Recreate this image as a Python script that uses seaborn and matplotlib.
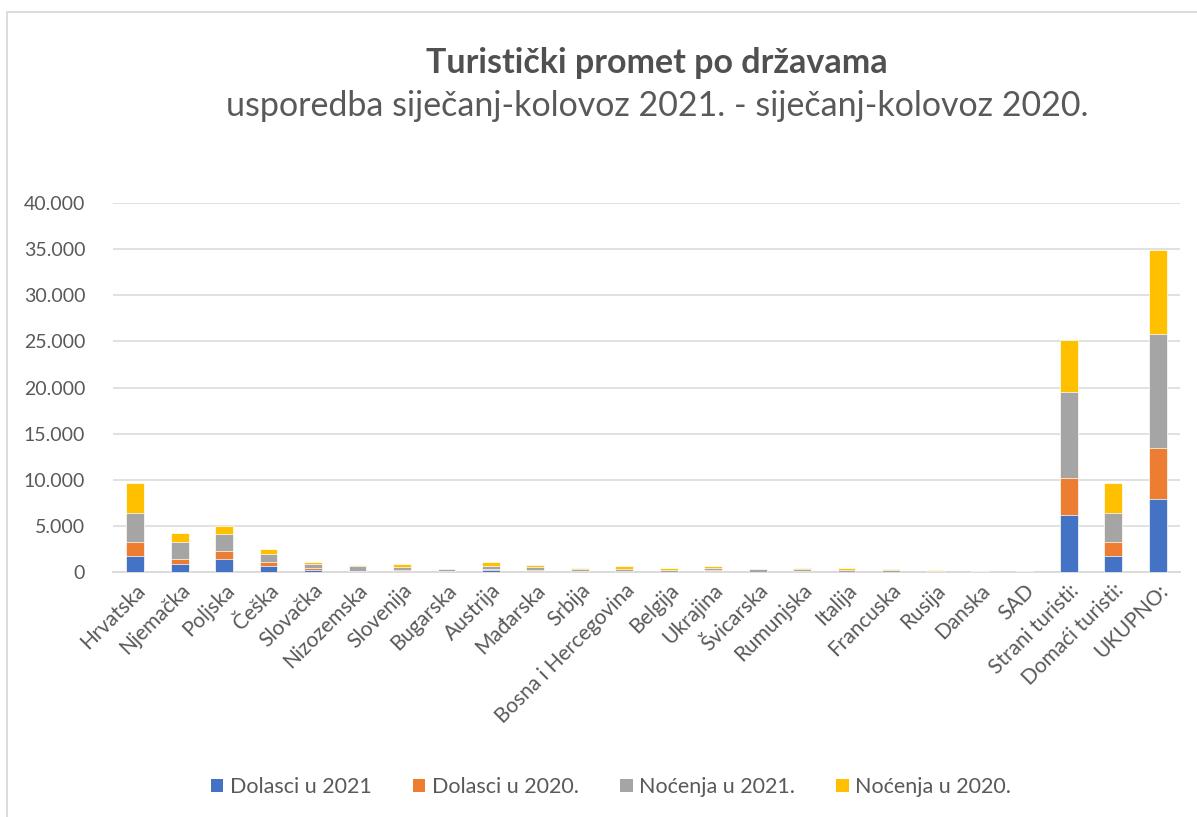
import matplotlib
matplotlib.use("Agg")
import matplotlib.pyplot as plt
import seaborn as sns
import pandas as pd
from matplotlib.patches import Patch, Rectangle
from matplotlib.ticker import FuncFormatter

drzave = ['Hrvatska', 'Njemačka', 'Poljska', 'Češka', 'Slovačka', 'Nizozemska',
          'Slovenija', 'Bugarska', 'Austrija', 'Mađarska', 'Srbija',
          'Bosna i Hercegovina', 'Belgija', 'Ukrajina', 'Švicarska', 'Rumunjska',
          'Italija', 'Francuska', 'Rusija', 'Danska', 'SAD',
          'Strani turisti:', 'Domaći turisti:', 'UKUPNO:']

dolasci_2021 = [1700, 900, 1410, 690, 250, 80, 60, 40, 180, 110, 20, 20, 20, 110,
                20, 30, 10, 10, 10, 5, 5, 6200, 1700, 7900]
dolasci_2020 = [1500, 480, 830, 430, 150, 60, 150, 30, 140, 110, 50, 60, 30, 140,
                30, 60, 10, 10, 10, 5, 5, 4000, 1500, 5500]
nocenja_2021 = [3150, 1840, 1850, 830, 500, 520, 370, 250, 360, 360, 290, 250, 220, 220,
                230, 230, 200, 170, 130, 70, 50, 9300, 3150, 12450]
nocenja_2020 = [3350, 1040, 930, 510, 220, 80, 290, 40, 370, 180, 110, 320, 130, 220,
                80, 80, 210, 100, 70, 30, 40, 5700, 3350, 9050]

serije = ['Dolasci u 2021', 'Dolasci u 2020.', 'Noćenja u 2021.', 'Noćenja u 2020.']
boje = ['#4472C4', '#ED7D31', '#A5A5A5', '#FFC000']

df = pd.DataFrame({'drzava': drzave,
                   serije[0]: dolasci_2021,
                   serije[1]: dolasci_2020,
                   serije[2]: nocenja_2021,
                   serije[3]: nocenja_2020})
# kumulativne vrijednosti za slaganje stupaca
kum = df[serije].cumsum(axis=1)
kum['drzava'] = df['drzava']

sns.set_theme(style='white')
plt.rcParams['font.family'] = ['Lato', 'DejaVu Sans']

fig = plt.figure(figsize=(11.97, 8.17), dpi=100)
ax = fig.add_axes([113 / 1197, 1 - 572 / 817, (1180 - 113) / 1197, (572 - 203) / 817])

for s, c in reversed(list(zip(serije, boje))):
    sns.barplot(data=kum, x='drzava', y=s, color=c, width=0.4, ax=ax,
                edgecolor='white', linewidth=0.5, saturation=1, zorder=3)

ax.set_ylim(0, 40000)
ax.set_yticks(range(0, 40001, 5000))
ax.yaxis.set_major_formatter(FuncFormatter(lambda v, p: f'{int(v):,}'.replace(',', '.')))
ax.grid(axis='y', color='#D9D9D9', linewidth=1.1, zorder=0)
ax.set_axisbelow(True)
for sp in ['top', 'right', 'left']:
    ax.spines[sp].set_visible(False)
ax.spines['bottom'].set_color('#D9D9D9')
ax.spines['bottom'].set_linewidth(1.3)
ax.set_xlabel('')
ax.set_ylabel('')
ax.tick_params(axis='y', length=0, pad=20, labelsize=14, labelcolor='#595959')
ax.tick_params(axis='x', length=0, pad=6, labelsize=15, labelcolor='#595959')
plt.setp(ax.get_xticklabels(), rotation=45, ha='right', rotation_mode='anchor')

fig.text(657 / 1197, 1 - 63 / 817, 'Turistički promet po državama', ha='center', va='center',
         fontsize=24.5, fontweight='bold', color='#505050')
fig.text(657 / 1197, 1 - 106 / 817, 'usporedba siječanj-kolovoz 2021. - siječanj-kolovoz 2020.',
         ha='center', va='center', fontsize=24.5, color='#595959')

handles = [Patch(facecolor=c, edgecolor='none') for c in boje]
fig.legend(handles, serije, loc='center', bbox_to_anchor=(611 / 1197, 1 - 787 / 817),
           ncol=4, frameon=False, fontsize=15.5, labelcolor='#595959',
           handlelength=0.6, handleheight=0.6, handletextpad=0.3, columnspacing=1.9)

fig.patches.append(Rectangle((7 / 1197, -0.1), 1.2, 1 - 12 / 817 + 0.1, transform=fig.transFigure,
                             fill=False, edgecolor='#D9D9D9', linewidth=1.3))

fig.savefig('out.png', dpi=100)
